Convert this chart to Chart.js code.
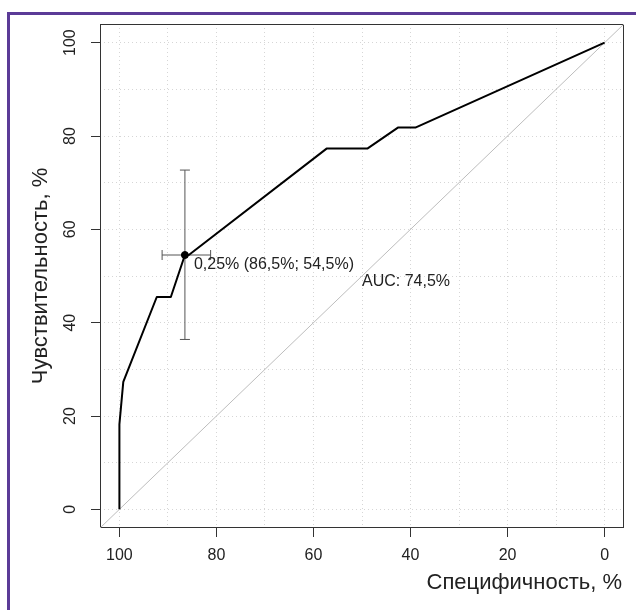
<!DOCTYPE html>
<html>
<head>
<meta charset="utf-8">
<script src="https://cdn.jsdelivr.net/npm/chart.js@4.4.0/dist/chart.umd.min.js"></script>
<style>
  html, body { margin: 0; padding: 0; background: #fff; }
  #wrap { position: relative; width: 636px; height: 610px; overflow: hidden; }
  #frame { position: absolute; left: 7px; top: 12px; width: 700px; height: 700px;
           border-top: 3px solid #5b3b97; border-left: 3px solid #5b3b97; }
  canvas { position: absolute; left: 0; top: 0; }
</style>
</head>
<body>
<div id="wrap">
  <div id="frame"></div>
  <canvas id="roc" width="636" height="610"></canvas>
</div>
<script>
// ROC curve, specificity on a reversed x axis, sensitivity on y (both %)
const specificity = [100, 100, 99.2, 92.3, 89.4, 86.5, 85.7, 57.3, 48.9, 42.6, 39.0, 0];
const sensitivity = [0, 18.2, 27.3, 45.5, 45.5, 54.5, 54.5, 77.3, 77.3, 81.8, 81.8, 100];

// best cut-off with its confidence intervals
const threshold = 0.25;
const thresholdSpec = 86.5;
const thresholdSens = 54.5;
const specCI = [91.2, 81.2];
const sensCI = [36.4, 72.7];
const auc = 74.5;
const aucLabelAt = [50, 48.8];

const axisMin = -4;
const axisMax = 104;
const gridValues = [0, 10, 20, 30, 40, 50, 60, 70, 80, 90, 100];
const tickLabels = [0, 20, 40, 60, 80, 100];
const xTitle = 'Специфичность, %';
const yTitle = 'Чувствительность, %';

const FONT = "'Liberation Sans', Arial, sans-serif";
const TEXT = '#222';
const comma = v => String(v).replace('.', ',');

const extras = {
  id: 'extras',
  beforeDatasetsDraw(chart) {
    const { ctx, chartArea: a, scales: { x, y } } = chart;
    ctx.save();
    // box around the plot
    ctx.strokeStyle = '#333';
    ctx.lineWidth = 1;
    ctx.strokeRect(a.left + 0.5, a.top + 0.5, a.right - a.left - 1, a.bottom - a.top - 1);

    // confidence interval crosses
    const px = x.getPixelForValue(thresholdSpec);
    const py = y.getPixelForValue(thresholdSens);
    const cap = 5;
    ctx.strokeStyle = '#555';
    ctx.beginPath();
    const y1 = y.getPixelForValue(sensCI[0]), y2 = y.getPixelForValue(sensCI[1]);
    ctx.moveTo(px, y1); ctx.lineTo(px, y2);
    ctx.moveTo(px - cap, y1); ctx.lineTo(px + cap, y1);
    ctx.moveTo(px - cap, y2); ctx.lineTo(px + cap, y2);
    const x1 = x.getPixelForValue(specCI[0]), x2 = x.getPixelForValue(specCI[1]);
    ctx.moveTo(x1, py); ctx.lineTo(x2, py);
    ctx.moveTo(x1, py - cap); ctx.lineTo(x1, py + cap);
    ctx.moveTo(x2, py - cap); ctx.lineTo(x2, py + cap);
    ctx.stroke();
    ctx.restore();
  },
  afterDatasetsDraw(chart) {
    const { ctx, chartArea: a, scales: { x, y } } = chart;
    ctx.save();
    ctx.fillStyle = TEXT;
    ctx.font = '16px ' + FONT;
    ctx.textAlign = 'left';
    ctx.textBaseline = 'middle';
    const px = x.getPixelForValue(thresholdSpec);
    const py = y.getPixelForValue(thresholdSens);
    ctx.fillText(`${comma(threshold)}% (${comma(thresholdSpec)}%; ${comma(thresholdSens)}%)`, px + 9, py + 10);
    ctx.fillText(`AUC: ${comma(auc)}%`, x.getPixelForValue(aucLabelAt[0]), y.getPixelForValue(aucLabelAt[1]));

    // x title, right aligned under the plot (built-in title flips alignment on a reversed axis)
    ctx.font = '22px ' + FONT;
    ctx.textAlign = 'right';
    ctx.fillText(xTitle, a.right - 2, x.bottom - 27);
    ctx.restore();
  }
};

const gridOpts = {
  color: '#d6d6d6',
  lineWidth: 1,
  tickLength: 9,
  tickWidth: 1,
  tickBorderDash: [],
  tickColor: c => (c.tick && tickLabels.includes(c.tick.value)) ? '#333' : 'rgba(0,0,0,0)'
};

new Chart(document.getElementById('roc'), {
  type: 'scatter',
  data: {
    datasets: [
      {
        label: 'ROC',
        data: specificity.map((s, i) => ({ x: s, y: sensitivity[i] })),
        showLine: true,
        borderColor: '#000',
        borderWidth: 2,
        borderJoinStyle: 'round',
        pointRadius: 0,
        order: 1
      },
      {
        label: 'cut-off',
        data: [{ x: thresholdSpec, y: thresholdSens }],
        pointRadius: 3.5,
        backgroundColor: '#000',
        borderColor: '#000',
        order: 0
      },
      {
        label: 'chance',
        data: [{ x: axisMax, y: 100 - axisMax }, { x: axisMin, y: 100 - axisMin }],
        showLine: true,
        borderColor: '#bdbdbd',
        borderWidth: 1,
        pointRadius: 0,
        order: 2
      }
    ]
  },
  options: {
    responsive: false,
    animation: false,
    events: [],
    layout: { autoPadding: false, padding: { top: 24, right: 12, left: 0, bottom: 0 } },
    plugins: { legend: { display: false }, tooltip: { enabled: false } },
    scales: {
      x: {
        type: 'linear',
        reverse: true,
        min: axisMin,
        max: axisMax,
        afterBuildTicks: s => { s.ticks = gridValues.map(v => ({ value: v })); },
        afterFit: s => { s.height = 82; },
        ticks: {
          autoSkip: false, maxRotation: 0, padding: 9, color: TEXT,
          font: { size: 16, family: FONT },
          callback: v => tickLabels.includes(v) ? String(v) : ''
        },
        grid: gridOpts,
        border: { display: false, dash: [1, 3] }
      },
      y: {
        type: 'linear',
        min: axisMin,
        max: axisMax,
        afterBuildTicks: s => { s.ticks = gridValues.map(v => ({ value: v })); },
        afterFit: s => { s.width = 100; },
        ticks: {
          autoSkip: false, minRotation: 90, maxRotation: 90, crossAlign: 'center',
          padding: 7, color: TEXT, font: { size: 16, family: FONT },
          callback: v => tickLabels.includes(v) ? String(v) : ''
        },
        grid: gridOpts,
        border: { display: false, dash: [1, 3] },
        title: {
          display: true, text: yTitle, align: 'center', color: TEXT,
          font: { size: 22, family: FONT }, padding: { top: 28, bottom: 0 }
        }
      }
    }
  },
  plugins: [extras]
});
</script>
</body>
</html>
